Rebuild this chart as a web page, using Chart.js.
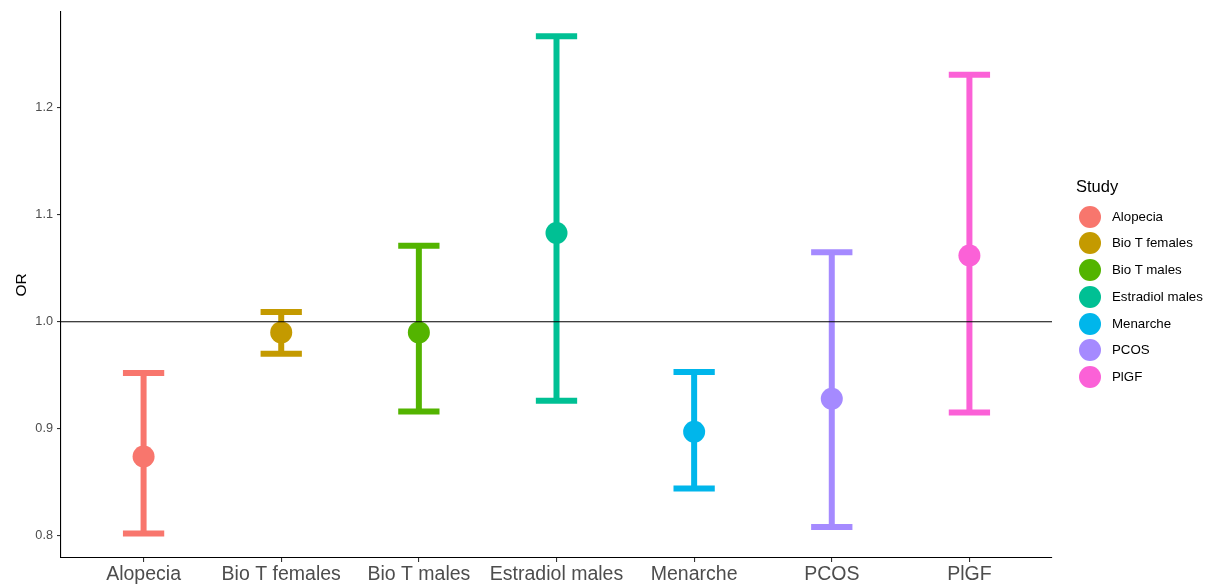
<!DOCTYPE html>
<html>
<head>
<meta charset="utf-8">
<script src="https://cdn.jsdelivr.net/npm/chart.js@4.4.1/dist/chart.umd.min.js"></script>
<style>
  html, body { margin: 0; padding: 0; background: #ffffff; }
  #wrap { position: relative; width: 1216px; height: 586px; }
  canvas { position: absolute; left: 0; top: 0; }
  #legend { position: absolute; left: 0; top: 0; font-family: "Liberation Sans", Arial, sans-serif; color: #000; }
  .lg-title { position: absolute; font-size: 16.5px; white-space: nowrap; }
  .lg-dot { position: absolute; width: 22px; height: 22px; border-radius: 50%; }
  .lg-text { position: absolute; font-size: 13.3px; white-space: nowrap; line-height: 16px; }
</style>
</head>
<body>
<div id="wrap">
  <canvas id="chart" width="1216" height="586"></canvas>
  <div id="legend"></div>
</div>
<script>
// ---- Data ----
const studies = ["Alopecia", "Bio T females", "Bio T males", "Estradiol males", "Menarche", "PCOS", "PlGF"];
const orValues = [0.874, 0.990, 0.990, 1.083, 0.897, 0.928, 1.062];
const lowerCI  = [0.802, 0.970, 0.916, 0.926, 0.844, 0.808, 0.915];
const upperCI  = [0.952, 1.009, 1.071, 1.267, 0.953, 1.065, 1.231];
const yTicks   = [0.8, 0.9, 1.0, 1.1, 1.2];
const refValue = 1.0;
const colors   = ["#F8766D", "#C49A00", "#53B400", "#00C094", "#00B6EB", "#A58AFF", "#FB61D7"];
const legendTitle = "Study";
const yTitle = "OR";

const capHalf = 0.15;
const xMin = -0.6, xMax = studies.length - 1 + 0.6;

const datasets = [];
// reference line (drawn on top)
datasets.push({
  type: 'line', order: 0,
  data: [{x: xMin, y: refValue}, {x: xMax, y: refValue}],
  borderColor: '#000000', borderWidth: 1.1, pointRadius: 0, fill: false
});
studies.forEach((s, i) => {
  datasets.push({
    type: 'scatter', order: 1,
    data: [{x: i, y: orValues[i]}],
    backgroundColor: colors[i], borderWidth: 0, pointRadius: 11, pointHoverRadius: 11
  });
  datasets.push({
    type: 'line', order: 2,
    data: [{x: i, y: lowerCI[i]}, {x: i, y: upperCI[i]}],
    borderColor: colors[i], borderWidth: 6, pointRadius: 0, borderCapStyle: 'butt', fill: false
  });
  datasets.push({
    type: 'line', order: 2,
    data: [{x: i - capHalf, y: upperCI[i]}, {x: i + capHalf, y: upperCI[i]}],
    borderColor: colors[i], borderWidth: 6, pointRadius: 0, borderCapStyle: 'butt', fill: false
  });
  datasets.push({
    type: 'line', order: 2,
    data: [{x: i - capHalf, y: lowerCI[i]}, {x: i + capHalf, y: lowerCI[i]}],
    borderColor: colors[i], borderWidth: 6, pointRadius: 0, borderCapStyle: 'butt', fill: false
  });
});

const font = "'Liberation Sans', Arial, sans-serif";

new Chart(document.getElementById('chart'), {
  type: 'scatter',
  data: { datasets },
  options: {
    responsive: false,
    animation: false,
    events: [],
    layout: { padding: { left: 0, top: 10, right: 164, bottom: 0 } },
    plugins: { legend: { display: false }, tooltip: { enabled: false } },
    scales: {
      x: {
        type: 'linear', min: xMin, max: xMax,
        afterBuildTicks: (scale) => { scale.ticks = studies.map((s, i) => ({ value: i })); },
        afterFit: (scale) => { scale.height = 28; },
        ticks: {
          callback: (v) => studies[v],
          font: { family: font, size: 19.5 },
          color: '#4D4D4D', padding: 1, maxRotation: 0, autoSkip: false
        },
        grid: { display: true, drawOnChartArea: false, drawTicks: true, tickLength: 4, color: '#333333', lineWidth: 1.1 },
        border: { display: true, color: '#000000', width: 1.1 }
      },
      y: {
        type: 'linear', min: 0.779, max: 1.290,
        afterBuildTicks: (scale) => { scale.ticks = yTicks.map(v => ({ value: v })); },
        afterFit: (scale) => { scale.width = 61; },
        ticks: {
          callback: (v) => v.toFixed(1),
          font: { family: font, size: 12.7 },
          color: '#4D4D4D', padding: 4
        },
        title: {
          display: true, text: yTitle, color: '#000000',
          font: { family: font, size: 15.5 },
          padding: { top: 12, bottom: 0 }
        },
        grid: { display: true, drawOnChartArea: false, drawTicks: true, tickLength: 4, color: '#333333', lineWidth: 1.1 },
        border: { display: true, color: '#000000', width: 1.1 }
      }
    }
  }
});

// ---- Legend ----
const lg = document.getElementById('legend');
const t = document.createElement('div');
t.className = 'lg-title';
t.textContent = legendTitle;
t.style.left = '1076px';
t.style.top = '177px';
lg.appendChild(t);
studies.forEach((s, i) => {
  const cy = 216.7 + i * 26.7;
  const d = document.createElement('div');
  d.className = 'lg-dot';
  d.style.background = colors[i];
  d.style.left = (1090 - 11) + 'px';
  d.style.top = (cy - 11) + 'px';
  lg.appendChild(d);
  const tx = document.createElement('div');
  tx.className = 'lg-text';
  tx.textContent = s;
  tx.style.left = '1112px';
  tx.style.top = (cy - 8) + 'px';
  lg.appendChild(tx);
});
</script>
</body>
</html>
